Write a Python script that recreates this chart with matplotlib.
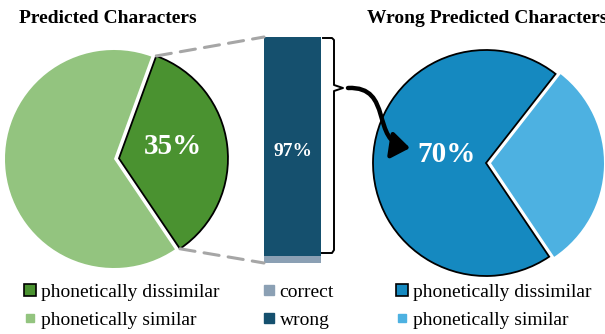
import numpy as np
import matplotlib
matplotlib.use("Agg")
import matplotlib.pyplot as plt
from matplotlib.patches import ConnectionPatch, FancyArrowPatch
from matplotlib.path import Path
from matplotlib.lines import Line2D

plt.rcParams['font.family'] = ['Liberation Serif', 'DejaVu Serif']

# data
pred_labels = ['phonetically dissimilar', 'phonetically similar']
pred_values = [35, 65]
bar_labels = ['correct', 'wrong']
bar_values = [3, 97]
wrong_labels = ['phonetically dissimilar', 'phonetically similar']
wrong_values = [70, 30]

green_colors = ['#4a9230', '#93c47f']
bar_colors = ['#8ba0b4', '#15506e']
blue_colors = ['#1589c0', '#4db1e1']

W, H = 605, 334
fig = plt.figure(figsize=(W / 100, H / 100), dpi=100)

# one axes in pixel coords (y down) for the pies and the annotations
ax = fig.add_axes([0, 0, 1, 1])

# left pie (angles are in data coords, y axis is flipped later)
w1, _ = ax.pie(pred_values, colors=green_colors, startangle=-70, counterclock=True,
               radius=109, center=(114, 159), explode=[5, 0],
               wedgeprops=dict(linewidth=0))
w1[0].set_edgecolor('black')
w1[0].set_linewidth(1.3)

# right pie
w2, _ = ax.pie(wrong_values, colors=blue_colors, startangle=56, counterclock=True,
               radius=113, center=(486, 163), explode=[0, 5],
               wedgeprops=dict(linewidth=0))
w2[0].set_edgecolor('black')
w2[0].set_linewidth(1.3)

ax.set_xlim(0, W)
ax.set_ylim(H, 0)
ax.set_aspect('auto')
ax.axis('off')

ax.text(173, 146, f'{pred_values[0]}%', color='white', fontsize=21, fontweight='bold',
        ha='center', va='center')
ax.text(447, 155, f'{wrong_values[0]}%', color='white', fontsize=21, fontweight='bold',
        ha='center', va='center')

ax.text(19, 23, 'Predicted Characters', fontsize=14, fontweight='bold', ha='left', va='baseline')
ax.text(367, 23, 'Wrong Predicted Characters', fontsize=14, fontweight='bold', ha='left',
        va='baseline', clip_on=False)

# stacked bar
bx0, bx1, by0, by1 = 264, 321, 37, 263
axb = fig.add_axes([bx0 / W, 1 - by1 / H, (bx1 - bx0) / W, (by1 - by0) / H])
bottom = 0
for v, c in zip(bar_values, bar_colors):
    axb.bar(0, v, width=1, bottom=bottom, color=c)
    bottom += v
axb.set_xlim(-0.5, 0.5)
axb.set_ylim(0, sum(bar_values))
axb.axis('off')
axb.text(0, bar_values[0] + bar_values[1] / 2 - 2, f'{bar_values[1]}%', color='white',
         fontsize=14, fontweight='bold', ha='center', va='center')

# dashed lines from the dark wedge edges to the bar corners
c = w1[0].center
r = w1[0].r
for ang, ybar in [(w1[0].theta1, sum(bar_values)), (w1[0].theta2, 0)]:
    px = c[0] + r * np.cos(np.deg2rad(ang))
    py = c[1] + r * np.sin(np.deg2rad(ang))
    con = ConnectionPatch(xyA=(px, py), coordsA=ax.transData,
                          xyB=(-0.5, ybar), coordsB=axb.transData,
                          color='#a6a6a6', linewidth=2.2, linestyle=(0, (5, 3)))
    fig.add_artist(con)

# bracket
bx = 334
ax.plot([323, bx - 2, bx, bx, bx + 9, bx, bx, bx - 2, 321],
        [38, 38, 40, 85, 88, 91, 250, 253, 253], color='black', lw=1.4,
        solid_joinstyle='round')

# curved arrow
verts = [(348, 88), (394, 86), (370, 142), (410, 148)]
arr = FancyArrowPatch(path=Path(verts, [Path.MOVETO, Path.CURVE4, Path.CURVE4, Path.CURVE4]),
                      arrowstyle='-|>,head_length=0.55,head_width=0.4', mutation_scale=20,
                      color='black', lw=3.2)
ax.add_patch(arr)

# legends
def make_handles(colors):
    return [Line2D([], [], marker='s', ls='', markersize=8, markerfacecolor=colors[0],
                   markeredgecolor='black', markeredgewidth=1.2),
            Line2D([], [], marker='s', ls='', markersize=6, markerfacecolor=colors[1],
                   markeredgecolor=colors[1])]

leg_kw = dict(frameon=False, prop={'family': 'Liberation Serif', 'size': 14},
              handlelength=0.6, handletextpad=0.25,
              labelspacing=0.55, borderpad=0, borderaxespad=0, loc='upper left')
l1 = ax.legend(make_handles(green_colors), pred_labels,
               bbox_to_anchor=(24, 283), bbox_transform=ax.transData, **leg_kw)
ax.add_artist(l1)
bar_handles = [Line2D([], [], marker='s', ls='', markersize=7, markerfacecolor=bc,
                      markeredgecolor=bc) for bc in bar_colors]
l2 = ax.legend(bar_handles, bar_labels,
               bbox_to_anchor=(263, 283), bbox_transform=ax.transData, **leg_kw)
ax.add_artist(l2)
l3 = ax.legend(make_handles(blue_colors), wrong_labels,
               bbox_to_anchor=(396, 283), bbox_transform=ax.transData, **leg_kw)

fig.savefig('out.png', dpi=100)
